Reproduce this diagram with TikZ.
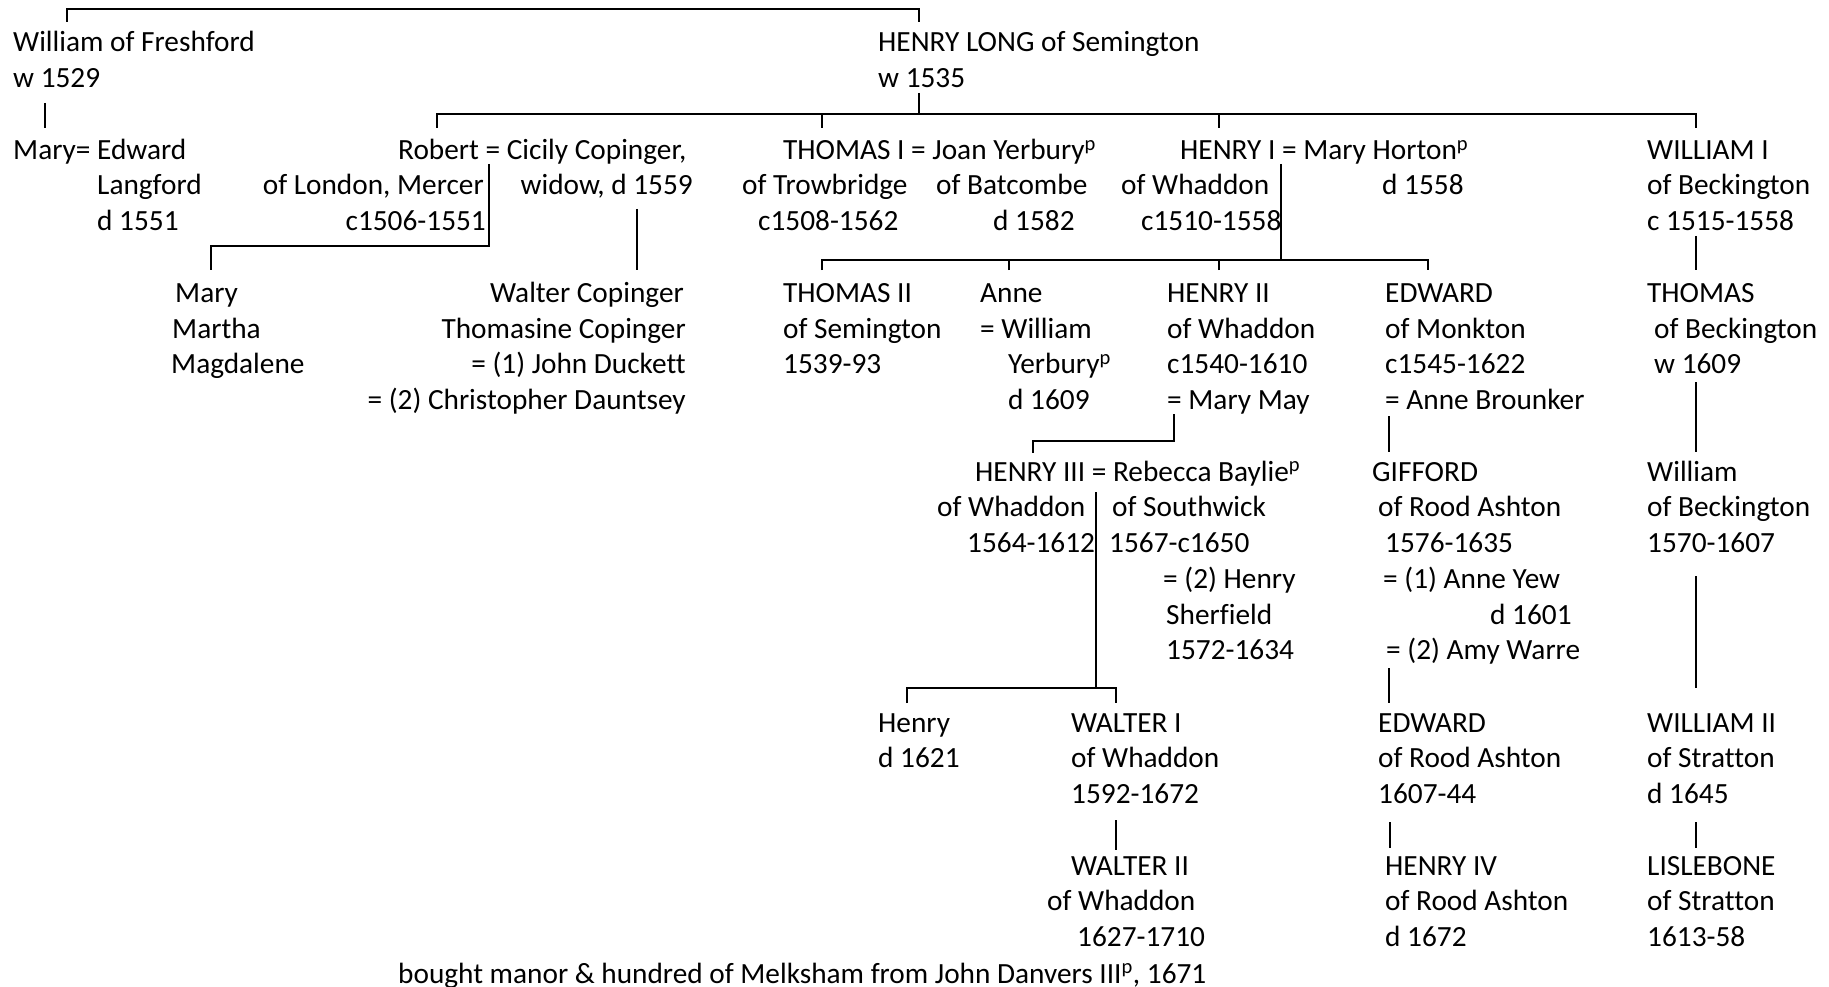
\documentclass[tikz,border=0pt]{standalone}
\usepackage{fontspec}
\setmainfont[RawFeature={-liga;-clig;-calt;-dlig}]{Carlito}

\tikzset{
  person/.style={anchor=base west, inner sep=0pt},
  personr/.style={anchor=base east, inner sep=0pt},
  link/.style={line width=2pt},
}

\begin{document}
\begin{tikzpicture}[x=1pt, y=-1pt, font=\fontsize{29.3}{35.75}\selectfont]

  \useasboundingbox (0,0) rectangle (1829,987);

  % First generation
  \node[person] (wf1) at (13, 52) {William of Freshford};
  \node[person] (wf2) at (13, 87.75) {w 1529};
  \node[person] (hl1) at (878, 52) {HENRY LONG of Semington};
  \node[person] (hl2) at (878, 87.75) {w 1535};

  % Second generation
  \node[person] (mary1) at (13, 159.25) {Mary= Edward};
  \node[person] (mary2) at (97, 195) {Langford};
  \node[person] (mary3) at (97, 230.75) {d 1551};

  \node[person] (rob1) at (398, 159.25) {Robert = Cicily Copinger,};
  \node[personr] (rob2) at (484, 195) {of London, Mercer};
  \node[personr] (rob3) at (486, 230.75) {c1506-1551};
  \node[personr] (cic2) at (693, 195) {widow, d 1559};

  \node[person] (thI1) at (783, 159.25) {THOMAS I = Joan Yerbury\textsuperscript{p}};
  \node[person] (thI2) at (742, 195) {of Trowbridge};
  \node[person] (thI3) at (758, 230.75) {c1508-1562};
  \node[person] (joan2) at (936, 195) {of Batcombe};
  \node[person] (joan3) at (993, 230.75) {d 1582};

  \node[person] (heI1) at (1180, 159.25) {HENRY I = Mary Horton\textsuperscript{p}};
  \node[person] (heI2) at (1121, 195) {of Whaddon};
  \node[person] (heI3) at (1141, 230.75) {c1510-1558};
  \node[person] (mh2) at (1382, 195) {d 1558};

  \node[person] (wiI1) at (1647, 159.25) {WILLIAM I};
  \node[person] (wiI2) at (1647, 195) {of Beckington};
  \node[person] (wiI3) at (1647, 230.75) {c 1515-1558};

  % Third generation
  \node[person] (mm1) at (175, 302.25) {Mary};
  \node[person] (mm2) at (172, 338) {Martha};
  \node[person] (mm3) at (171, 373.75) {Magdalene};

  \node[personr] (cop1) at (684, 302.25) {Walter Copinger};
  \node[personr] (cop2) at (686, 338) {Thomasine Copinger};
  \node[personr] (cop3) at (686, 373.75) {= (1) John Duckett};
  \node[personr] (cop4) at (686, 409.5) {= (2) Christopher Dauntsey};

  \node[person] (thII1) at (783, 302.25) {THOMAS II};
  \node[person] (thII2) at (783, 338) {of Semington};
  \node[person] (thII3) at (783, 373.75) {1539-93};

  \node[person] (anne1) at (980, 302.25) {Anne};
  \node[person] (anne2) at (980, 338) {= William};
  \node[person] (anne3) at (1008, 373.75) {Yerbury\textsuperscript{p}};
  \node[person] (anne4) at (1008, 409.5) {d 1609};

  \node[person] (heII1) at (1167, 302.25) {HENRY II};
  \node[person] (heII2) at (1167, 338) {of Whaddon};
  \node[person] (heII3) at (1167, 373.75) {c1540-1610};
  \node[person] (heII4) at (1167, 409.5) {= Mary May};

  \node[person] (ed1) at (1385, 302.25) {EDWARD};
  \node[person] (ed2) at (1385, 338) {of Monkton};
  \node[person] (ed3) at (1385, 373.75) {c1545-1622};
  \node[person] (ed4) at (1385, 409.5) {= Anne Brounker};

  \node[person] (th1) at (1647, 302.25) {THOMAS};
  \node[person] (th2) at (1654, 338) {of Beckington};
  \node[person] (th3) at (1654, 373.75) {w 1609};

  % Fourth generation
  \node[person] (heIII1) at (975, 481) {HENRY III = Rebecca Baylie\textsuperscript{p}};
  \node[person] (heIII2) at (937, 516.75) {of Whaddon};
  \node[person] (heIII3) at (967, 552.5) {1564-1612};
  \node[person] (reb2) at (1112, 516.75) {of Southwick};
  \node[person] (reb3) at (1109, 552.5) {1567-c1650};
  \node[person] (reb4) at (1163, 588.25) {= (2) Henry};
  \node[person] (reb5) at (1166, 624) {Sherfield};
  \node[person] (reb6) at (1166, 659.75) {1572-1634};

  \node[person] (gif1) at (1372, 481) {GIFFORD};
  \node[person] (gif2) at (1378, 516.75) {of Rood Ashton};
  \node[person] (gif3) at (1385, 552.5) {1576-1635};
  \node[person] (gif4) at (1383, 588.25) {= (1) Anne Yew};
  \node[person] (gif5) at (1490, 624) {d 1601};
  \node[person] (gif6) at (1386, 659.75) {= (2) Amy Warre};

  \node[person] (wil1) at (1647, 481) {William};
  \node[person] (wil2) at (1647, 516.75) {of Beckington};
  \node[person] (wil3) at (1647, 552.5) {1570-1607};

  % Fifth generation
  \node[person] (hen1) at (878, 732) {Henry};
  \node[person] (hen2) at (878, 767.75) {d 1621};

  \node[person] (waI1) at (1071, 732) {WALTER I};
  \node[person] (waI2) at (1071, 767.75) {of Whaddon};
  \node[person] (waI3) at (1071, 803.5) {1592-1672};

  \node[person] (edR1) at (1378, 732) {EDWARD};
  \node[person] (edR2) at (1378, 767.75) {of Rood Ashton};
  \node[person] (edR3) at (1378, 803.5) {1607-44};

  \node[person] (wiII1) at (1647, 732) {WILLIAM II};
  \node[person] (wiII2) at (1647, 767.75) {of Stratton};
  \node[person] (wiII3) at (1647, 803.5) {d 1645};

  % Sixth generation
  \node[person] (waII1) at (1071, 875) {WALTER II};
  \node[person] (waII2) at (1047, 910.75) {of Whaddon};
  \node[person] (waII3) at (1077, 946.5) {1627-1710};

  \node[person] (heIV1) at (1385, 875) {HENRY IV};
  \node[person] (heIV2) at (1385, 910.75) {of Rood Ashton};
  \node[person] (heIV3) at (1385, 946.5) {d 1672};

  \node[person] (lis1) at (1647, 875) {LISLEBONE};
  \node[person] (lis2) at (1647, 910.75) {of Stratton};
  \node[person] (lis3) at (1647, 946.5) {1613-58};

  \node[person] (note) at (398, 983) {bought manor \& hundred of Melksham from John Danvers III\textsuperscript{p}, 1671};

  % Connector points
  \coordinate (wfTop) at (67, 22);
  \coordinate (hlTop) at (919, 22);
  \coordinate (wfDown) at (45, 103);
  \coordinate (maryUp) at (45, 128);
  \coordinate (hlDown) at (919, 93);
  \coordinate (hlBar) at (919, 114);
  \coordinate (robUp) at (437, 128);
  \coordinate (thIUp) at (822, 128);
  \coordinate (heIUp) at (1219, 128);
  \coordinate (wiIUp) at (1696, 128);
  \coordinate (robDown) at (489, 164);
  \coordinate (mmUp) at (211, 270);
  \coordinate (cicDown) at (637, 209);
  \coordinate (copUp) at (637, 270);
  \coordinate (heIDown) at (1281, 164);
  \coordinate (thIIUp) at (822, 270);
  \coordinate (anneUp) at (1009, 270);
  \coordinate (heIIUp) at (1219, 270);
  \coordinate (edUp) at (1428, 270);
  \coordinate (wiIDown) at (1696, 236);
  \coordinate (thUp) at (1696, 270);
  \coordinate (heIIDown) at (1174, 414);
  \coordinate (heIIIUp) at (1033, 453);
  \coordinate (edDown) at (1389, 416);
  \coordinate (gifUp) at (1389, 452);
  \coordinate (thDown) at (1696, 382);
  \coordinate (wilUp) at (1696, 452);
  \coordinate (heIIIDown) at (1096, 492);
  \coordinate (henUp) at (907, 703);
  \coordinate (waIUp) at (1116, 703);
  \coordinate (gifDown) at (1389, 668);
  \coordinate (edRUp) at (1389, 703);
  \coordinate (wilDown) at (1696, 576);
  \coordinate (wiIIUp) at (1696, 688);
  \coordinate (waIDown) at (1116, 820);
  \coordinate (waIIUp) at (1116, 850);
  \coordinate (edRDown) at (1390, 822);
  \coordinate (heIVUp) at (1390, 848);
  \coordinate (wiIIDown) at (1696, 822);
  \coordinate (lisUp) at (1696, 848);

  % Lines of descent
  \draw[link] (wfTop) -- ++(0,-13) -| (hlTop);
  \draw[link] (wfDown) -- (maryUp);
  \draw[link] (hlDown) -- (hlBar);
  \draw[link, line width=2.6pt] (robUp) |- (hlBar) -| (wiIUp);
  \draw[link] (thIUp) -- (thIUp |- hlBar);
  \draw[link] (heIUp) -- (heIUp |- hlBar);

  \draw[link] (robDown) -- ++(0,82) -| (mmUp);
  \draw[link] (cicDown) -- (copUp);

  \draw[link] (heIDown) -- ++(0,96) coordinate (heIBar);
  \draw[link] (thIIUp) |- (heIBar) -| (edUp);
  \draw[link] (anneUp) -- (anneUp |- heIBar);
  \draw[link] (heIIUp) -- (heIIUp |- heIBar);
  \draw[link] (wiIDown) -- (thUp);

  \draw[link] (heIIDown) -- ++(0,27) -| (heIIIUp);
  \draw[link] (edDown) -- (gifUp);
  \draw[link] (thDown) -- (wilUp);

  \draw[link] (heIIIDown) -- ++(0,196) coordinate (heIIIBar);
  \draw[link] (henUp) |- (heIIIBar) -| (waIUp);
  \draw[link] (gifDown) -- (edRUp);
  \draw[link] (wilDown) -- (wiIIUp);

  \draw[link] (waIDown) -- (waIIUp);
  \draw[link] (edRDown) -- (heIVUp);
  \draw[link] (wiIIDown) -- (lisUp);

\end{tikzpicture}
\end{document}
